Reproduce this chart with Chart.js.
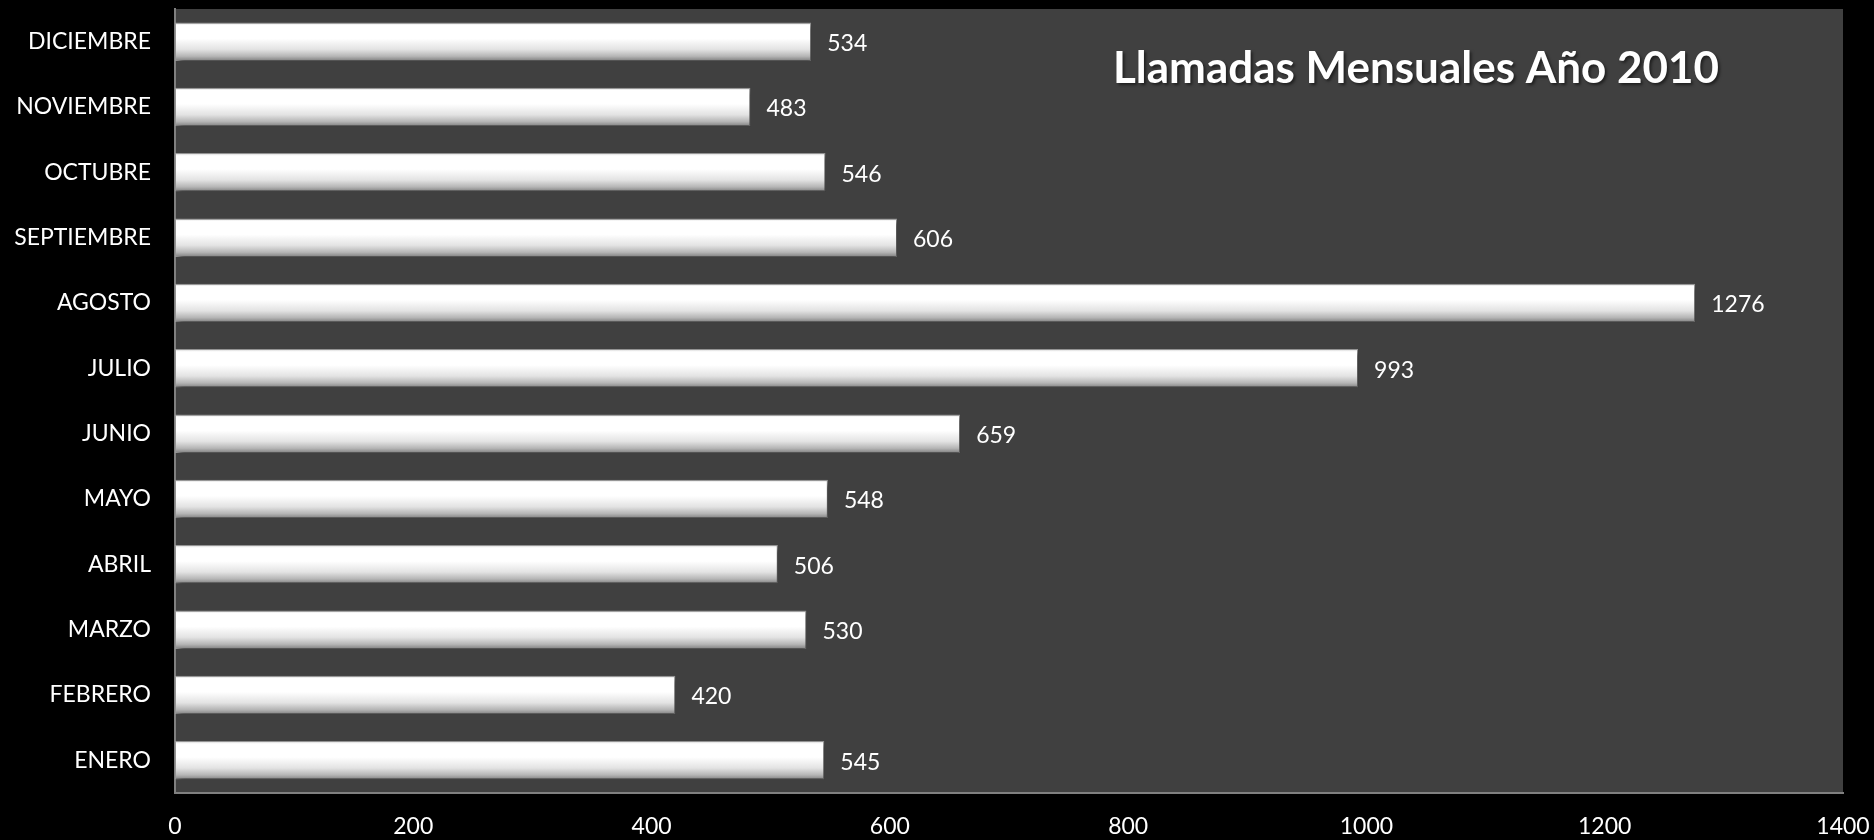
<!DOCTYPE html>
<html>
<head>
<meta charset="utf-8">
<script src="https://cdn.jsdelivr.net/npm/chart.js@4.4.1/dist/chart.umd.min.js"></script>
<style>
  html, body { margin: 0; padding: 0; background: #000; }
  #wrap { width: 1874px; height: 840px; }
</style>
</head>
<body>
<div id="wrap"><canvas id="myChart"></canvas></div>
<script>
const meses = ['ENERO', 'FEBRERO', 'MARZO', 'ABRIL', 'MAYO', 'JUNIO',
  'JULIO', 'AGOSTO', 'SEPTIEMBRE', 'OCTUBRE', 'NOVIEMBRE', 'DICIEMBRE'];
const llamadas = [545, 420, 530, 506, 548, 659, 993, 1276, 606, 546, 483, 534];
const xTicks = [0, 200, 400, 600, 800, 1000, 1200, 1400];
const titulo = 'Llamadas Mensuales Año 2010';

const barPct = 0.59;

// fondo gris del area de trazado
const plotBg = {
  id: 'plotBg',
  beforeDraw(chart) {
    const { ctx, chartArea: a } = chart;
    ctx.save();
    ctx.fillStyle = '#404040';
    ctx.fillRect(a.left, a.top, a.right - a.left, a.bottom - a.top);
    ctx.restore();
  }
};

// sombra de las barras
const barShadow = {
  id: 'barShadow',
  beforeDatasetDraw(chart) {
    const ctx = chart.ctx;
    ctx.save();
    ctx.shadowColor = 'rgba(0,0,0,0.55)';
    ctx.shadowBlur = 5;
    ctx.shadowOffsetX = 3;
    ctx.shadowOffsetY = 3;
  },
  afterDatasetDraw(chart) {
    chart.ctx.restore();
  }
};

// etiquetas de valores y titulo
const labels = {
  id: 'labels',
  afterDatasetsDraw(chart) {
    const { ctx, chartArea: a } = chart;
    const meta = chart.getDatasetMeta(0);
    ctx.save();
    ctx.fillStyle = '#ffffff';
    ctx.font = '23px Lato';
    ctx.textBaseline = 'middle';
    ctx.textAlign = 'left';
    meta.data.forEach((el, i) => {
      ctx.fillText(String(llamadas[i]), el.x + 16, el.y + 2);
    });
    ctx.font = 'bold 44px Lato';
    ctx.textAlign = 'center';
    ctx.shadowColor = 'rgba(0,0,0,0.5)';
    ctx.shadowBlur = 3;
    ctx.shadowOffsetX = 2;
    ctx.shadowOffsetY = 2;
    ctx.fillText(titulo, a.left + (a.right - a.left) * 0.744, a.top + 60);
    ctx.restore();
  }
};

function barFill(context) {
  const chart = context.chart;
  const a = chart.chartArea;
  if (!a) return '#e0e0e0';
  const y = chart.scales.y.getPixelForValue(context.dataIndex);
  const half = (a.bottom - a.top) / meses.length * barPct / 2;
  const g = chart.ctx.createLinearGradient(0, y - half, 0, y + half);
  g.addColorStop(0, '#cfcfcf');
  g.addColorStop(0.07, '#ffffff');
  g.addColorStop(0.42, '#ffffff');
  g.addColorStop(0.7, '#e3e3e3');
  g.addColorStop(0.88, '#b5b5b5');
  g.addColorStop(1, '#7f7f7f');
  return g;
}

new Chart(document.getElementById('myChart'), {
  type: 'bar',
  data: {
    labels: meses,
    datasets: [{
      data: llamadas,
      backgroundColor: barFill,
      borderColor: '#9a9a9a',
      borderWidth: 1,
      borderSkipped: false,
      categoryPercentage: 1,
      barPercentage: barPct
    }]
  },
  options: {
    indexAxis: 'y',
    responsive: true,
    maintainAspectRatio: false,
    animation: false,
    layout: { padding: { top: 9, right: 31, left: 0, bottom: 0 } },
    plugins: {
      legend: { display: false },
      tooltip: { enabled: false }
    },
    scales: {
      x: {
        min: 0,
        max: 1400,
        afterBuildTicks(scale) {
          scale.ticks = xTicks.map(v => ({ value: v }));
        },
        afterFit(scale) {
          scale.height = 47;
          scale.paddingLeft = 0;
          scale.paddingRight = 0;
        },
        grid: { display: false, drawTicks: false },
        border: { color: '#808080', width: 2 },
        ticks: {
          color: '#ffffff',
          font: { family: 'Lato', size: 23 },
          padding: 20,
          maxRotation: 0,
          callback: v => String(v)
        }
      },
      y: {
        reverse: true,
        afterFit(scale) {
          scale.width = 175;
          scale.paddingTop = 0;
          scale.paddingBottom = 0;
        },
        grid: { display: false, drawTicks: false },
        border: { color: '#808080', width: 2 },
        ticks: {
          color: '#ffffff',
          font: { family: 'Lato', size: 23 },
          padding: 24
        }
      }
    }
  },
  plugins: [plotBg, barShadow, labels]
});
</script>
</body>
</html>
